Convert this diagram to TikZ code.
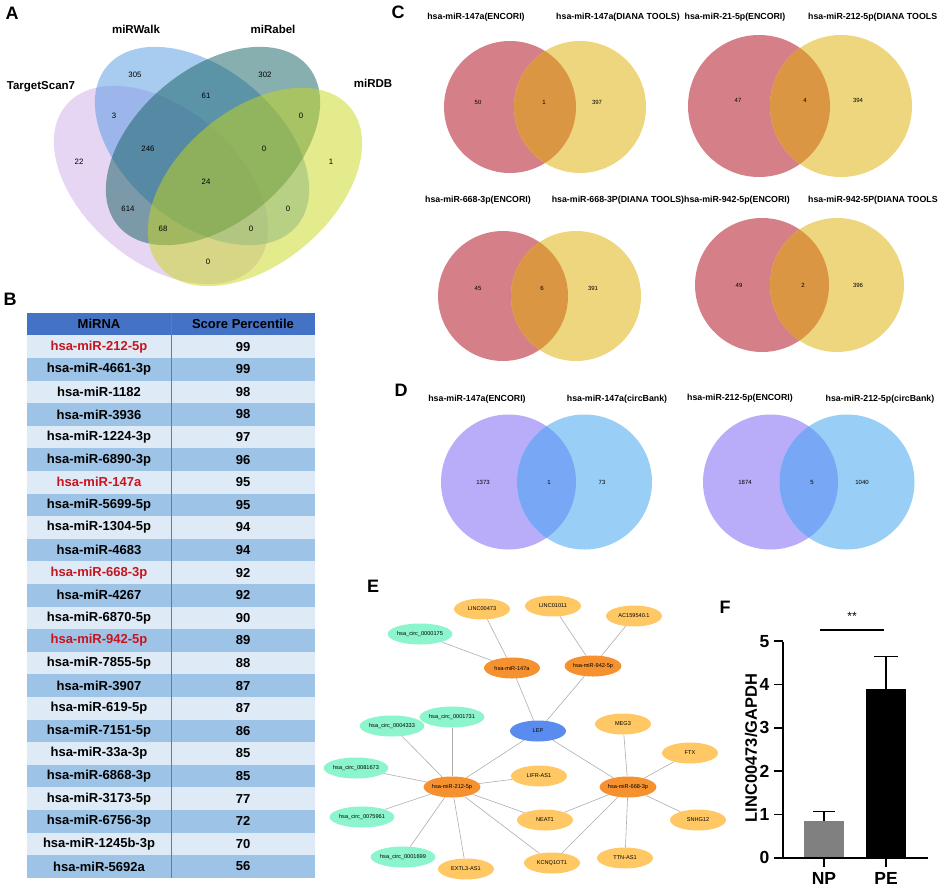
\documentclass[tikz,border=0pt]{standalone}
\usepackage{fontspec}
\setmainfont{Liberation Sans}
\usetikzlibrary{shapes.geometric}

\definecolor{tsfill}{HTML}{CFABE9}
\definecolor{walkfill}{HTML}{5197E1}
\definecolor{rabelfill}{HTML}{115F5F}
\definecolor{dbfill}{HTML}{C7D719}
\definecolor{cred}{HTML}{D58088}
\definecolor{cyel}{HTML}{EED67E}
\definecolor{cmix}{HTML}{DA9642}
\definecolor{dpur}{HTML}{B9ACF8}
\definecolor{dblu}{HTML}{99CEF7}
\definecolor{dmix}{HTML}{78A8F5}
\definecolor{hdrblue}{HTML}{4472C4}
\definecolor{rowlight}{HTML}{DEEAF6}
\definecolor{rowdark}{HTML}{9DC3E6}
\definecolor{divblue}{HTML}{4F81BD}
\definecolor{mired}{HTML}{C8141E}
\definecolor{mirorange}{HTML}{F5912F}
\definecolor{lncyellow}{HTML}{FFC864}
\definecolor{circgreen}{HTML}{8CF5CD}
\definecolor{lepblue}{HTML}{5A8CF0}

\tikzset{
  panel/.style={font=\fontsize{18}{18}\selectfont\bfseries},
  setlab/.style={font=\fontsize{11.5}{12}\selectfont\bfseries},
  cnt/.style={font=\fontsize{7.8}{8}\selectfont},
  vlab/.style={font=\fontsize{8.8}{9}\selectfont\bfseries},
  vnum/.style={font=\fontsize{6}{6}\selectfont},
  cell/.style={font=\fontsize{13}{13}\selectfont\bfseries},
  net/.style={ellipse, minimum width=56pt, minimum height=21pt, inner sep=0pt, font=\fontsize{5.6}{6}\selectfont},
  mir/.style={net, fill=mirorange},
  lnc/.style={net, fill=lncyellow},
  circnode/.style={net, fill=circgreen},
  gene/.style={net, fill=lepblue},
  link/.style={draw=black!32, line width=0.6pt},
  axislab/.style={font=\fontsize{17.5}{18}\selectfont\bfseries}
}

\begin{document}
\begin{tikzpicture}[x=1pt,y=-1pt]
  \useasboundingbox (0,0) rectangle (941,888);

  % panel letters
  \node[panel] (pA) at (12,13) {A};
  \node[panel] (pB) at (10,299) {B};
  \node[panel] (pC) at (398,12) {C};
  \node[panel] (pD) at (401,390) {D};
  \node[panel] (pE) at (373,586) {E};
  \node[panel] (pF) at (725,607) {F};

  % A: four set venn
  \begin{scope}[fill opacity=0.5]
    \fill[tsfill, rotate around={-40:(161,185)}] (161,185) ellipse [x radius=124, y radius=77];
    \fill[walkfill, rotate around={-40:(202,146)}] (202,146) ellipse [x radius=124, y radius=77];
    \fill[rabelfill, rotate around={40:(213,146)}] (213,146) ellipse [x radius=124, y radius=77];
    \fill[dbfill, rotate around={40:(255,187)}] (255,187) ellipse [x radius=124, y radius=77];
  \end{scope}
  \node[setlab] (sWalk) at (136,29) {miRWalk};
  \node[setlab] (sRabel) at (273,29) {miRabel};
  \node[setlab] (sTS) at (41,87) {TargetScan7};
  \node[setlab] (sDB) at (373,83) {miRDB};
  \foreach \x/\y/\n in {135/75/305, 265/75/302, 206/96/61, 114/116/3, 301/116/0,
      148/149/246, 264/149/0, 79/162/22, 331/162/1, 206/182/24, 128/209/614,
      288/209/0, 163/229/68, 251/229/0, 208/262/0} {
    \node[cnt] at (\x,\y) {\n};
  }

  % B: table
  \fill[hdrblue] (27,313) rectangle (315,335.4);
  \node[cell] (hMi) at (99,324) {MiRNA};
  \node[cell] (hSc) at (243,324) {Score Percentile};
  \foreach \name/\score/\col [count=\i] in {hsa-miR-212-5p/99/mired, hsa-miR-4661-3p/99/black,
      hsa-miR-1182/98/black, hsa-miR-3936/98/black, hsa-miR-1224-3p/97/black,
      hsa-miR-6890-3p/96/black, hsa-miR-147a/95/mired, hsa-miR-5699-5p/95/black,
      hsa-miR-1304-5p/94/black, hsa-miR-4683/94/black, hsa-miR-668-3p/92/mired,
      hsa-miR-4267/92/black, hsa-miR-6870-5p/90/black, hsa-miR-942-5p/89/mired,
      hsa-miR-7855-5p/88/black, hsa-miR-3907/87/black, hsa-miR-619-5p/87/black,
      hsa-miR-7151-5p/86/black, hsa-miR-33a-3p/85/black, hsa-miR-6868-3p/85/black,
      hsa-miR-3173-5p/77/black, hsa-miR-6756-3p/72/black, hsa-miR-1245b-3p/70/black,
      hsa-miR-5692a/56/black} {
    \pgfmathsetmacro\ytop{335.4+(\i-1)*22.6}
    \pgfmathsetmacro\ymid{\ytop+11.3}
    \ifodd\i\def\rowc{rowlight}\else\def\rowc{rowdark}\fi
    \fill[\rowc] (27,\ytop) rectangle (315,\ytop+22.6);
    \node[cell, text=\col] at (99,\ymid) {\name};
    \node[cell] at (243,\ymid) {\score};
  }
  \draw[divblue, line width=1pt] (171,313) -- (171,878);

  % C: two set venns
  \foreach \ax/\bx/\cy/\r in {510/580/107/66, 759/841/106/71, 503/576/296/65, 762/837/285/67} {
    \fill[cred] (\ax,\cy) circle [radius=\r];
    \fill[cyel] (\bx,\cy) circle [radius=\r];
    \begin{scope}
      \clip (\ax,\cy) circle [radius=\r];
      \fill[cmix] (\bx,\cy) circle [radius=\r];
    \end{scope}
  }
  \node[vlab] (c1a) at (476,17) {hsa-miR-147a(ENCORI)};
  \node[vlab] (c1b) at (618,17) {hsa-miR-147a(DIANA TOOLS)};
  \node[vlab] (c2a) at (735,17) {hsa-miR-21-5p(ENCORI)};
  \node[vlab, anchor=west, inner xsep=0pt] (c2b) at (808,17) {hsa-miR-212-5p(DIANA TOOLS};
  \node[vlab] (c3a) at (478,200) {hsa-miR-668-3p(ENCORI)};
  \node[vlab] (c3b) at (618,200) {hsa-miR-668-3P(DIANA TOOLS)};
  \node[vlab] (c4a) at (737,200) {hsa-miR-942-5p(ENCORI)};
  \node[vlab, anchor=west, inner xsep=0pt] (c4b) at (808,200) {hsa-miR-942-5P(DIANA TOOLS};
  \foreach \x/\y/\n in {478/102/50, 544/102/1, 597/102/397, 738/100/47, 805/100/4, 858/100/394,
      478/288/45, 542/288/6, 593/288/391, 739/285/49, 803/285/2, 858/285/396} {
    \node[vnum] at (\x,\y) {\n};
  }

  % D: two set venns
  \foreach \ax/\bx in {508.5/584.5, 770.5/847} {
    \fill[dpur] (\ax,482) circle [radius=67.5];
    \fill[dblu] (\bx,482) circle [radius=67.5];
    \begin{scope}
      \clip (\ax,482) circle [radius=67.5];
      \fill[dmix] (\bx,482) circle [radius=67.5];
    \end{scope}
  }
  \node[vlab] (d1a) at (477,399) {hsa-miR-147a(ENCORI)};
  \node[vlab] (d1b) at (617,399) {hsa-miR-147a(circBank)};
  \node[vlab] (d2a) at (740,398) {hsa-miR-212-5p(ENCORI)};
  \node[vlab] (d2b) at (880,399) {hsa-miR-212-5p(circBank)};
  \foreach \x/\y/\n in {483/482/1373, 549/482/1, 602/482/73, 745/482/1874, 812/482/5, 862/482/1040} {
    \node[vnum] at (\x,\y) {\n};
  }

  % E: network
  \node[lnc] (l473) at (482,609) {LINC00473};
  \node[lnc] (l1011) at (553,606) {LINC01011};
  \node[lnc] (ac) at (634,616) {AC159540.1};
  \node[circnode] (c175) at (420,634) {hsa\_circ\_0000175};
  \node[mir] (m147) at (512,668) {hsa-miR-147a};
  \node[mir] (m942) at (593,666) {hsa-miR-942-5p};
  \node[gene] (lep) at (538,731) {LEP};
  \node[circnode] (c1731) at (452,717) {hsa\_circ\_0001731};
  \node[circnode] (c4333) at (392,726) {hsa\_circ\_0004333};
  \node[lnc] (meg) at (623,724) {MEG3};
  \node[lnc] (ftx) at (690,753) {FTX};
  \node[circnode] (c81673) at (356,768) {hsa\_circ\_0081673};
  \node[lnc] (lifr) at (539,776) {LIFR-AS1};
  \node[mir] (m212) at (452,787) {hsa-miR-212-5p};
  \node[mir] (m668) at (628,787) {hsa-miR-668-3p};
  \node[circnode] (c75961) at (362,817) {hsa\_circ\_0075961};
  \node[lnc] (neat) at (545,820) {NEAT1};
  \node[lnc] (snhg) at (698,820) {SNHG12};
  \node[circnode] (c1699) at (403,857) {hsa\_circ\_0001699};
  \node[lnc] (kcn) at (552,863) {KCNQ1OT1};
  \node[lnc] (ttn) at (625,858) {TTN-AS1};
  \node[lnc] (extl) at (466,869) {EXTL3-AS1};
  \foreach \a/\b in {c175/m147, l473/m147, m147/lep, l1011/m942, ac/m942, m942/lep,
      lep/m212, lep/m668, m212/c4333, m212/c1731, m212/c81673, m212/lifr, m212/c75961,
      m212/c1699, m212/extl, m212/neat, m212/kcn, m668/meg, m668/ftx, m668/snhg,
      m668/ttn, m668/neat, m668/kcn} {
    \draw[link] (\a) -- (\b);
  }

  % F: bar chart
  \fill[black!50] (804,857.7) rectangle (844,820.7);
  \fill[black] (866,857.7) rectangle (906,689);
  \draw[line width=1.5pt] (824,820.7) -- (824,811.7) (813,811.7) -- (835,811.7);
  \draw[line width=1.5pt] (886,689) -- (886,656.7) (874,656.7) -- (898,656.7);
  \draw[line width=1.8pt] (783,641.7) -- (783,857.7) -- (928,857.7);
  \foreach \v in {0,...,5} {
    \draw[line width=1.8pt] (774,857.7-43.3*\v) -- (783,857.7-43.3*\v);
    \node[axislab, anchor=east] at (773,857.7-43.3*\v) {\v};
  }
  \draw[line width=1.8pt] (824,857.7) -- (824,867) (886,857.7) -- (886,867);
  \node[axislab] (np) at (824,878) {NP};
  \node[axislab] (pe) at (886,878) {PE};
  \node[font=\fontsize{16.5}{17}\selectfont\bfseries, rotate=90] (ylab) at (751,748) {LINC00473/GAPDH};
  \draw[line width=1.5pt] (820,630) -- (884,630);
  \node[font=\fontsize{12}{12}\selectfont] (sig) at (852,616) {**};
\end{tikzpicture}
\end{document}
